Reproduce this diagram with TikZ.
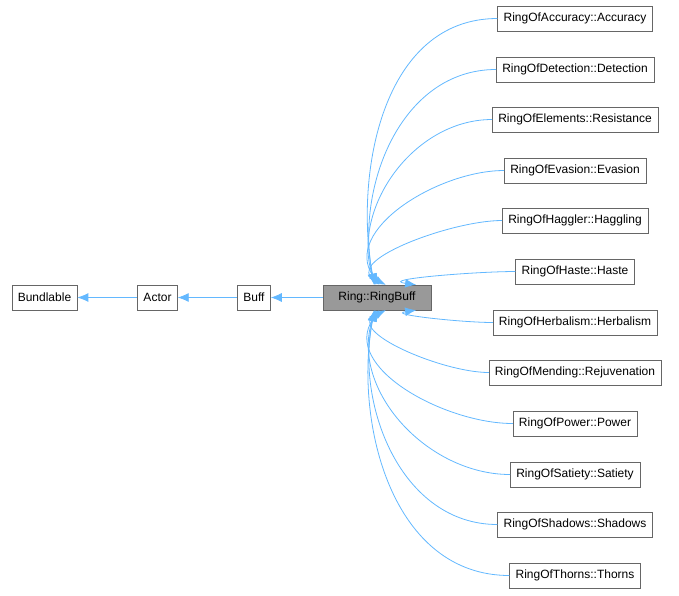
\documentclass[tikz,border=0pt]{standalone}
\usepackage{fontspec}
\setmainfont{Liberation Sans}
\usetikzlibrary{arrows.meta}
\definecolor{edgeblue}{RGB}{99,184,255}
\definecolor{boxgray}{RGB}{102,102,102}
\definecolor{ringgray}{RGB}{153,153,153}
\tikzset{
  cls/.style={draw=boxgray, fill=white, minimum height=25pt, inner xsep=6pt, inner ysep=0pt, font=\fontsize{12}{14}\selectfont},
  inh/.style={draw=edgeblue, line width=0.8pt, {Latex[length=11pt,width=9pt]}-},
}
\begin{document}
\begin{tikzpicture}[x=1pt,y=-1pt]
	\useasboundingbox (0,0) rectangle (679,595);
	% base chain
	\node[cls] (bundlable) at (44.5,297.5) {Bundlable};
	\node[cls] (actor) at (157.5,297.5) {Actor};
	\node[cls] (buff) at (254,297.5) {Buff};
	\node[cls, fill=ringgray, minimum width=108pt] (ringbuff) at (377,297.5) {Ring::RingBuff};
	\draw[inh] (bundlable) -- (actor);
	\draw[inh] (actor) -- (buff);
	\draw[inh] (buff) -- (ringbuff);
	% derived classes
	\foreach \id/\txt/\y/\anc/\ang in {
		acc/RingOfAccuracy::Accuracy/18.5/103/100,
		det/RingOfDetection::Detection/69.5/100/102,
		ele/RingOfElements::Resistance/119.5/97/108,
		eva/RingOfEvasion::Evasion/170.5/80/125,
		hag/RingOfHaggler::Haggling/220.5/55/155,
		has/RingOfHaste::Haste/271.5/18/172,
		her/RingOfHerbalism::Herbalism/322.5/-18/188,
		men/RingOfMending::Rejuvenation/372.5/-55/205,
		pow/RingOfPower::Power/423.5/-80/235,
		sat/RingOfSatiety::Satiety/474.5/-97/252,
		sha/RingOfShadows::Shadows/524.5/-100/258,
		tho/RingOfThorns::Thorns/575.5/-103/260} {
		\node[cls] (\id) at (575,\y) {\txt};
		\draw[inh] (ringbuff.\anc) to[out=\ang, in=180] (\id.west);
	}
\end{tikzpicture}
\end{document}
